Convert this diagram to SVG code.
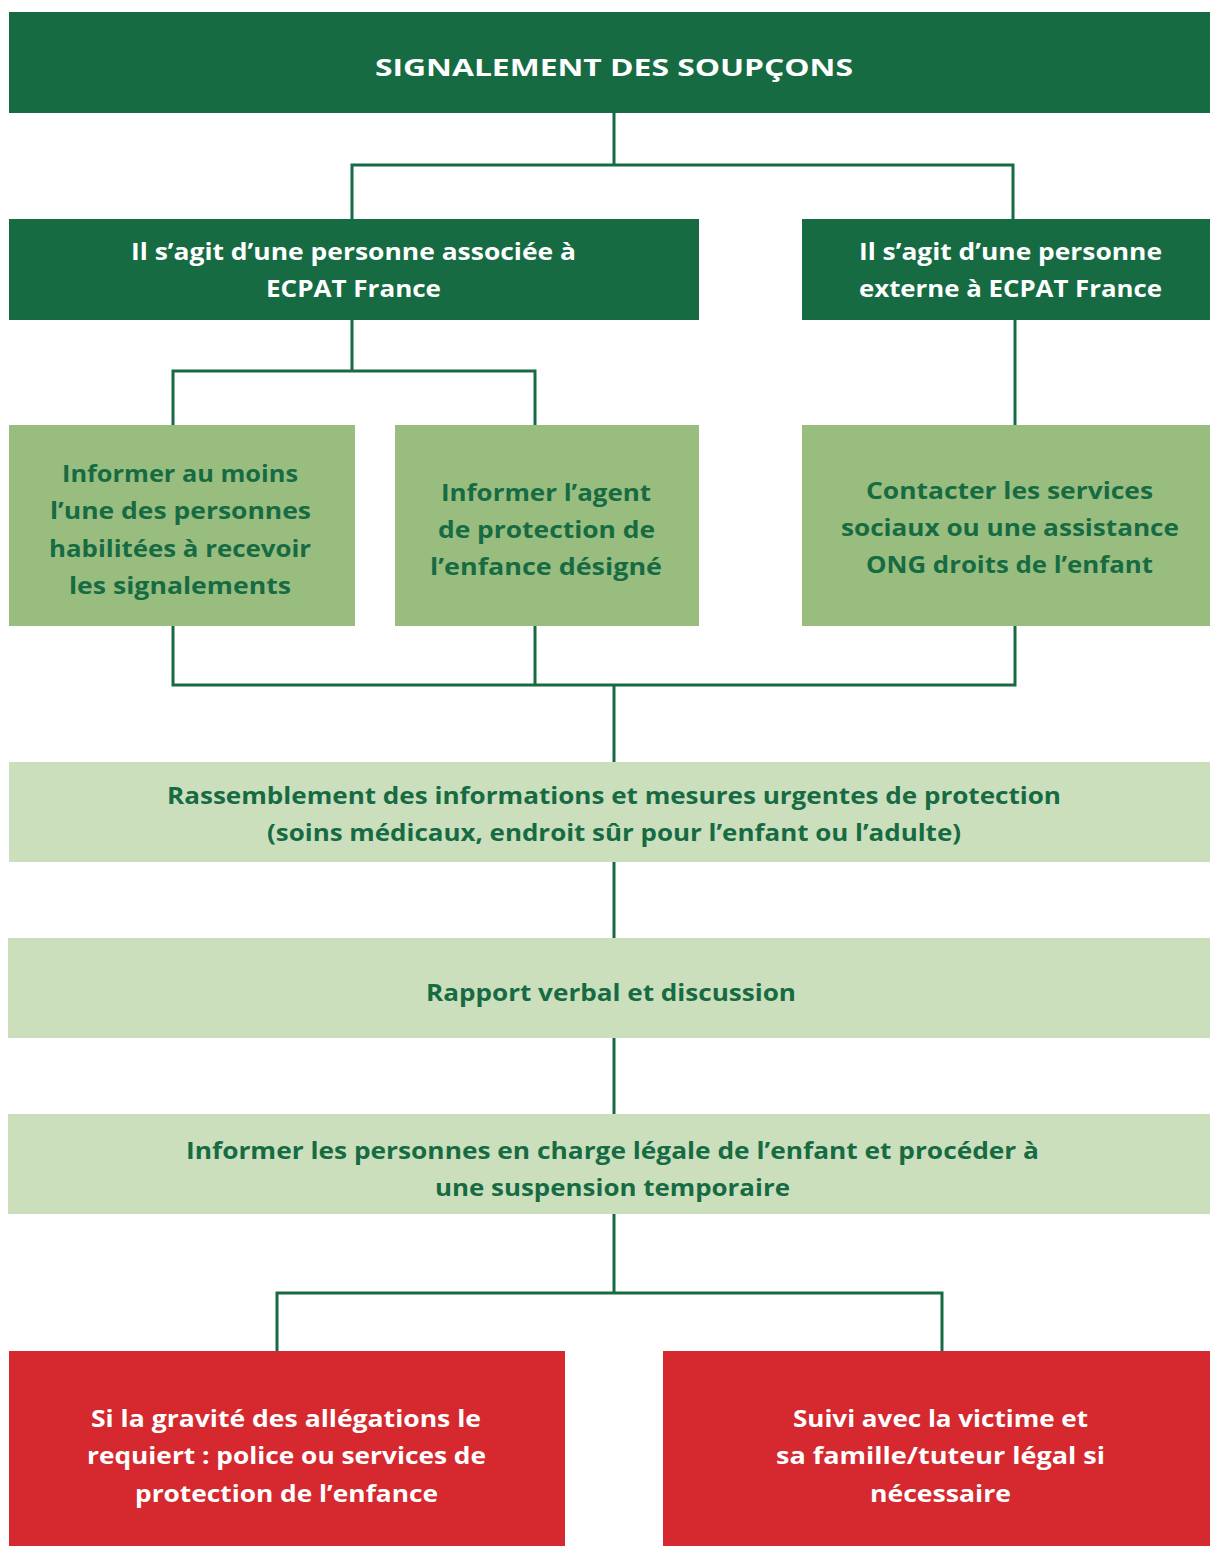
<svg xmlns="http://www.w3.org/2000/svg" width="1210" height="1546" viewBox="0 0 1210 1546">
<style>
.dark{fill:#176b43}
.mid{fill:#99bd7f}
.light{fill:#cbdfbd}
.red{fill:#d5292f}
text{font-family:"Open Sans",Lato,"Liberation Sans",sans-serif;font-weight:700;font-size:24px;text-anchor:middle}
.w{fill:#ffffff}
.g{fill:#176b43}
.conn{fill:none;stroke:#176b43;stroke-width:3}
</style>
<rect width="1210" height="1546" fill="#ffffff"/>
<g id="connectors" class="conn">
<path d="M614 113V165M352 219V165H1013V219"/>
<path d="M352 320V371M173 425V371H535V425"/>
<path d="M1015 320V425"/>
<path d="M173 626V685H1015V626M535 626V685M614 685V762"/>
<path d="M614 862V938"/>
<path d="M614 1038V1114"/>
<path d="M614 1214V1293M277 1351V1293H942V1351"/>
</g>
<g id="n1"><rect class="dark" x="9" y="12" width="1201" height="101"/><text class="w" x="614" y="76" font-size="29" textLength="478" lengthAdjust="spacingAndGlyphs">SIGNALEMENT DES SOUPÇONS</text></g>
<g id="n2"><rect class="dark" x="9" y="219" width="690" height="101"/><text class="w" x="353.5" y="260" textLength="445" lengthAdjust="spacingAndGlyphs">Il s’agit d’une personne associée à</text><text class="w" x="353.5" y="297" textLength="175" lengthAdjust="spacingAndGlyphs">ECPAT France</text></g>
<g id="n3"><rect class="dark" x="802" y="219" width="408" height="101"/><text class="w" x="1010.5" y="260" textLength="303" lengthAdjust="spacingAndGlyphs">Il s’agit d’une personne</text><text class="w" x="1010.5" y="297" textLength="303" lengthAdjust="spacingAndGlyphs">externe à ECPAT France</text></g>
<g id="n4"><rect class="mid" x="9" y="425" width="346" height="201"/><text class="g" x="180" y="482" textLength="236" lengthAdjust="spacingAndGlyphs">Informer au moins</text><text class="g" x="180.5" y="519" textLength="261" lengthAdjust="spacingAndGlyphs">l’une des personnes</text><text class="g" x="180" y="557" textLength="262" lengthAdjust="spacingAndGlyphs">habilitées à recevoir</text><text class="g" x="180" y="594" textLength="222" lengthAdjust="spacingAndGlyphs">les signalements</text></g>
<g id="n5"><rect class="mid" x="395" y="425" width="304" height="201"/><text class="g" x="546" y="501" textLength="210" lengthAdjust="spacingAndGlyphs">Informer l’agent</text><text class="g" x="546.5" y="538" textLength="217" lengthAdjust="spacingAndGlyphs">de protection de</text><text class="g" x="546" y="575" textLength="232" lengthAdjust="spacingAndGlyphs">l’enfance désigné</text></g>
<g id="n6"><rect class="mid" x="802" y="425" width="408" height="201"/><text class="g" x="1009.5" y="499" textLength="287" lengthAdjust="spacingAndGlyphs">Contacter les services</text><text class="g" x="1010" y="536" textLength="338" lengthAdjust="spacingAndGlyphs">sociaux ou une assistance</text><text class="g" x="1009.5" y="573" textLength="287" lengthAdjust="spacingAndGlyphs">ONG droits de l’enfant</text></g>
<g id="n7"><rect class="light" x="9" y="762" width="1201" height="100"/><text class="g" x="614" y="804" textLength="894" lengthAdjust="spacingAndGlyphs">Rassemblement des informations et mesures urgentes de protection</text><text class="g" x="614" y="841" textLength="694" lengthAdjust="spacingAndGlyphs">(soins médicaux, endroit sûr pour l’enfant ou l’adulte)</text></g>
<g id="n8"><rect class="light" x="8" y="938" width="1202" height="100"/><text class="g" x="611" y="1001" textLength="370" lengthAdjust="spacingAndGlyphs">Rapport verbal et discussion</text></g>
<g id="n9"><rect class="light" x="8" y="1114" width="1202" height="100"/><text class="g" x="612.5" y="1159" textLength="853" lengthAdjust="spacingAndGlyphs">Informer les personnes en charge légale de l’enfant et procéder à</text><text class="g" x="612.5" y="1196" textLength="355" lengthAdjust="spacingAndGlyphs">une suspension temporaire</text></g>
<g id="n10"><rect class="red" x="9" y="1351" width="556" height="195"/><text class="w" x="286" y="1427" textLength="390" lengthAdjust="spacingAndGlyphs">Si la gravité des allégations le</text><text class="w" x="286.5" y="1464" textLength="399" lengthAdjust="spacingAndGlyphs">requiert : police ou services de</text><text class="w" x="286.5" y="1502" textLength="303" lengthAdjust="spacingAndGlyphs">protection de l’enfance</text></g>
<g id="n11"><rect class="red" x="663" y="1351" width="547" height="195"/><text class="w" x="940.5" y="1427" textLength="295" lengthAdjust="spacingAndGlyphs">Suivi avec la victime et</text><text class="w" x="940.5" y="1464" textLength="329" lengthAdjust="spacingAndGlyphs">sa famille/tuteur légal si</text><text class="w" x="940.5" y="1502" textLength="141" lengthAdjust="spacingAndGlyphs">nécessaire</text></g>
</svg>
